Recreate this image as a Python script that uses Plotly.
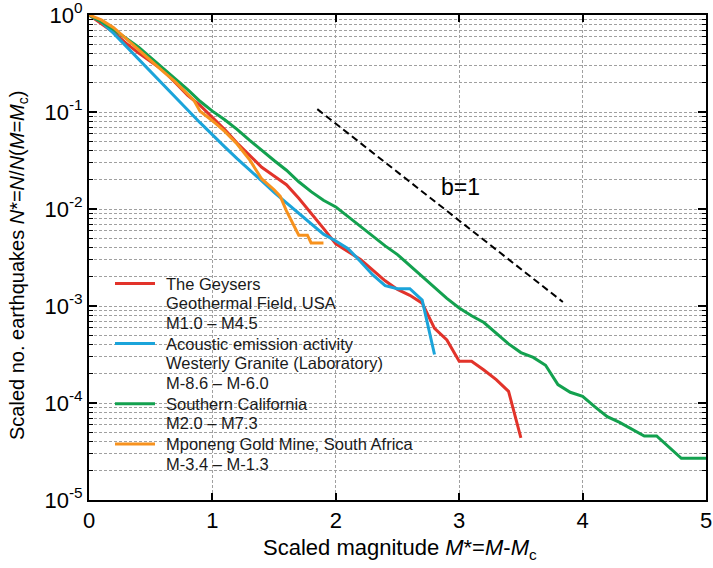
import plotly.graph_objects as go

# ---------------- data ----------------
geysers_x = [0.0, 0.1, 0.2, 0.3, 0.4, 0.5, 0.6, 0.7, 0.8, 0.9, 1.0, 1.1, 1.2, 1.3, 1.4, 1.5,
             1.6, 1.7, 1.8, 1.9, 2.0, 2.1, 2.2, 2.3, 2.4, 2.5, 2.6, 2.7, 2.8, 2.9, 3.0, 3.1,
             3.2, 3.3, 3.4, 3.5]
geysers_y = [1.0, 0.813, 0.661, 0.513, 0.407, 0.331, 0.269, 0.200, 0.148, 0.117, 0.0871,
             0.0661, 0.0479, 0.0355, 0.0269, 0.0219, 0.0178, 0.0129, 0.00912, 0.00631,
             0.00437, 0.00363, 0.00302, 0.00234, 0.00182, 0.00148, 0.00129, 0.00107,
             0.000589, 0.000447, 0.000269, 0.000269, 0.000219, 0.000174, 0.000132, 0.0000437]

acoustic_x = [0.0, 0.1, 0.2, 0.3, 0.4, 0.5, 0.6, 0.7, 0.8, 0.9, 1.0, 1.1, 1.2, 1.3, 1.4,
              1.5, 1.6, 1.7, 1.8, 1.9, 2.0, 2.1, 2.2, 2.3, 2.4, 2.5, 2.6, 2.7, 2.8]
acoustic_y = [1.0, 0.851, 0.646, 0.479, 0.355, 0.263, 0.195, 0.145, 0.105, 0.0776, 0.0575,
              0.0437, 0.0331, 0.0251, 0.0195, 0.0148, 0.0115, 0.00891, 0.00692, 0.00550,
              0.00468, 0.00389, 0.00288, 0.00209, 0.00162, 0.00151, 0.00151, 0.00115, 0.000316]

socal_x = [0.0, 0.1, 0.2, 0.3, 0.4, 0.5, 0.6, 0.7, 0.8, 0.9, 1.0, 1.1, 1.2, 1.3, 1.4, 1.5,
           1.6, 1.7, 1.8, 1.9, 2.0, 2.1, 2.2, 2.3, 2.4, 2.5, 2.6, 2.7, 2.8, 2.9, 3.0, 3.1,
           3.2, 3.3, 3.4, 3.5, 3.6, 3.7, 3.8, 3.9, 4.0, 4.1, 4.2, 4.3, 4.4, 4.5, 4.6, 4.7,
           4.8, 4.9, 5.0]
socal_y = [1.0, 0.851, 0.708, 0.575, 0.468, 0.363, 0.282, 0.219, 0.170, 0.129, 0.102,
           0.0832, 0.0661, 0.0513, 0.0398, 0.0316, 0.0251, 0.0191, 0.0151, 0.0123, 0.0105,
           0.00832, 0.00661, 0.00525, 0.00417, 0.00339, 0.00263, 0.00200, 0.00155, 0.00120,
           0.000955, 0.000794, 0.000676, 0.000525, 0.000407, 0.000331, 0.000295, 0.000245,
           0.000155, 0.000129, 0.000117, 0.0000912, 0.0000724, 0.0000631, 0.0000537,
           0.0000457, 0.0000457, 0.0000347, 0.0000269, 0.0000269, 0.0000269]

mponeng_x = [0.0, 0.1, 0.2, 0.3, 0.4, 0.5, 0.6, 0.7, 0.8, 0.85, 0.9, 1.0, 1.1, 1.2, 1.3,
             1.4, 1.5, 1.55, 1.6, 1.7, 1.77, 1.8, 1.9]
mponeng_y = [1.0, 0.891, 0.741, 0.575, 0.447, 0.339, 0.263, 0.204, 0.155, 0.132, 0.102,
             0.0813, 0.0631, 0.0468, 0.0324, 0.0204, 0.0158, 0.0135, 0.00955, 0.00537,
             0.00537, 0.00447, 0.00447]

bline_x = [1.85, 3.84]
bline_y = [0.107, 0.0011]
blabel_x = 3.01
blabel_logy = -1.77

series_names = ["The Geysers", "Acoustic emission activity", "Southern California",
                "Mponeng Gold Mine, South Africa"]
legend_lines = [
    ["The Geysers", "Geothermal Field, USA", "M1.0 \u2013 M4.5"],
    ["Acoustic emission activity", "Westerly Granite (Laboratory)", "M-8.6 \u2013 M-6.0"],
    ["Southern California", "M2.0 \u2013 M7.3"],
    ["Mponeng Gold Mine, South Africa", "M-3.4 \u2013 M-1.3"],
]
series_colors = ["#E2332A", "#1BA4DA", "#13A14F", "#F7921E"]

x_tick_vals = [0, 1, 2, 3, 4, 5]
x_tick_text = ["0", "1", "2", "3", "4", "5"]
y_tick_vals = [1e-5, 1e-4, 1e-3, 1e-2, 1e-1, 1]
y_tick_text = ["10<sup>-5</sup>", "10<sup>-4</sup>", "10<sup>-3</sup>",
               "10<sup>-2</sup>", "10<sup>-1</sup>", "10<sup>0</sup>"]
y_minor_vals = [m * 10.0 ** e for e in range(-5, 0) for m in range(2, 10)]

x_title = "Scaled magnitude <i>M</i>*=<i>M</i>-<i>M</i><sub>c</sub>"
y_title = "Scaled no. earthquakes <i>N</i>*=<i>N</i>/<i>N</i>(<i>M</i>=<i>M</i><sub>c</sub>)"

FONT = "Liberation Sans, Arial, Helvetica, sans-serif"

# layout geometry (window pixels; page body margin removed by post_script)
W, H = 713, 568
PLOT_L, PLOT_R, PLOT_T, PLOT_B = 89, 706, 15, 500
ML, MT = PLOT_L, PLOT_T
MR, MB = W - PLOT_R, H - PLOT_B
PW, PH = PLOT_R - PLOT_L, PLOT_B - PLOT_T


def px_x(p):
    return (p - PLOT_L) / PW


def px_y(p):
    return (PLOT_B - p) / PH


fig = go.Figure()
all_x = [geysers_x, acoustic_x, socal_x, mponeng_x]
all_y = [geysers_y, acoustic_y, socal_y, mponeng_y]
for xs, ys, name, col in zip(all_x, all_y, series_names, series_colors):
    fig.add_trace(go.Scatter(x=xs, y=ys, mode="lines", name=name, showlegend=False,
                             line=dict(color=col, width=3)))

fig.add_trace(go.Scatter(x=bline_x, y=bline_y, mode="lines", showlegend=False,
                         line=dict(color="black", width=2, dash="7px,4px")))

fig.add_annotation(x=blabel_x, y=blabel_logy, xref="x", yref="y", text="b=1",
                   showarrow=False, font=dict(size=23, color="black", family=FONT))

# axis titles
fig.add_annotation(x=px_x(400), y=px_y(549), xref="paper", yref="paper", text=x_title,
                   showarrow=False, xanchor="center", yanchor="middle",
                   font=dict(size=22, family=FONT, color="black"))
fig.add_annotation(x=px_x(18), y=px_y(266), xref="paper", yref="paper", text=y_title,
                   showarrow=False, xanchor="center", yanchor="middle", textangle=-90,
                   font=dict(size=20, family=FONT, color="black"))

# manual legend (swatch + text lines)
LEG_LINE_X0, LEG_LINE_X1, LEG_TEXT_X = 115, 155, 164
LEG_TOP, LEG_STEP, LEG_GROUP_GAP = 283.5, 19.7, 1.0
row_y = LEG_TOP
for lines, col in zip(legend_lines, series_colors):
    fig.add_shape(type="line", xref="paper", yref="paper",
                  x0=px_x(LEG_LINE_X0), x1=px_x(LEG_LINE_X1),
                  y0=px_y(row_y), y1=px_y(row_y), line=dict(color=col, width=3))
    for i, t in enumerate(lines):
        fig.add_annotation(x=px_x(LEG_TEXT_X), y=px_y(row_y + i * LEG_STEP),
                           xref="paper", yref="paper", xanchor="left", yanchor="middle",
                           text=t, showarrow=False,
                           font=dict(size=16.5, family=FONT, color="#1a1a1a"))
    row_y += len(lines) * LEG_STEP + LEG_GROUP_GAP

grid_col = "#a0a0a0"
fig.update_layout(
    width=W, height=H,
    margin=dict(l=ML, r=MR, t=MT, b=MB, autoexpand=False),
    paper_bgcolor="white", plot_bgcolor="white",
    font=dict(family=FONT, color="black", size=20),
    showlegend=False,
    xaxis=dict(range=[0, 5], tickmode="array", tickvals=x_tick_vals, ticktext=x_tick_text,
               showgrid=True, gridcolor=grid_col, griddash="3px,2px", gridwidth=1,
               showline=True, linecolor="black", linewidth=2, mirror="ticks",
               ticks="inside", ticklen=7, tickwidth=1.5, tickcolor="black",
               zeroline=False, tickfont=dict(size=22), automargin=False,
               ticklabeloverflow="allow"),
    yaxis=dict(type="log", range=[-5, 0], tickmode="array", tickvals=y_tick_vals,
               ticktext=y_tick_text,
               showgrid=True, gridcolor=grid_col, griddash="3px,2px", gridwidth=1,
               showline=True, linecolor="black", linewidth=2, mirror="ticks",
               ticks="inside", ticklen=8, tickwidth=1.5, tickcolor="black",
               zeroline=False, tickfont=dict(size=22), automargin=False,
               ticklabeloverflow="allow",
               minor=dict(tickmode="array", tickvals=y_minor_vals, ticks="inside",
                          ticklen=4, tickcolor="black", tickwidth=1,
                          showgrid=True, gridcolor=grid_col, griddash="3px,2px",
                          gridwidth=1)),
)

fig.write_html("out.html", config={"displayModeBar": False},
               post_script="document.body.style.margin='0';document.body.style.overflow='hidden';")
